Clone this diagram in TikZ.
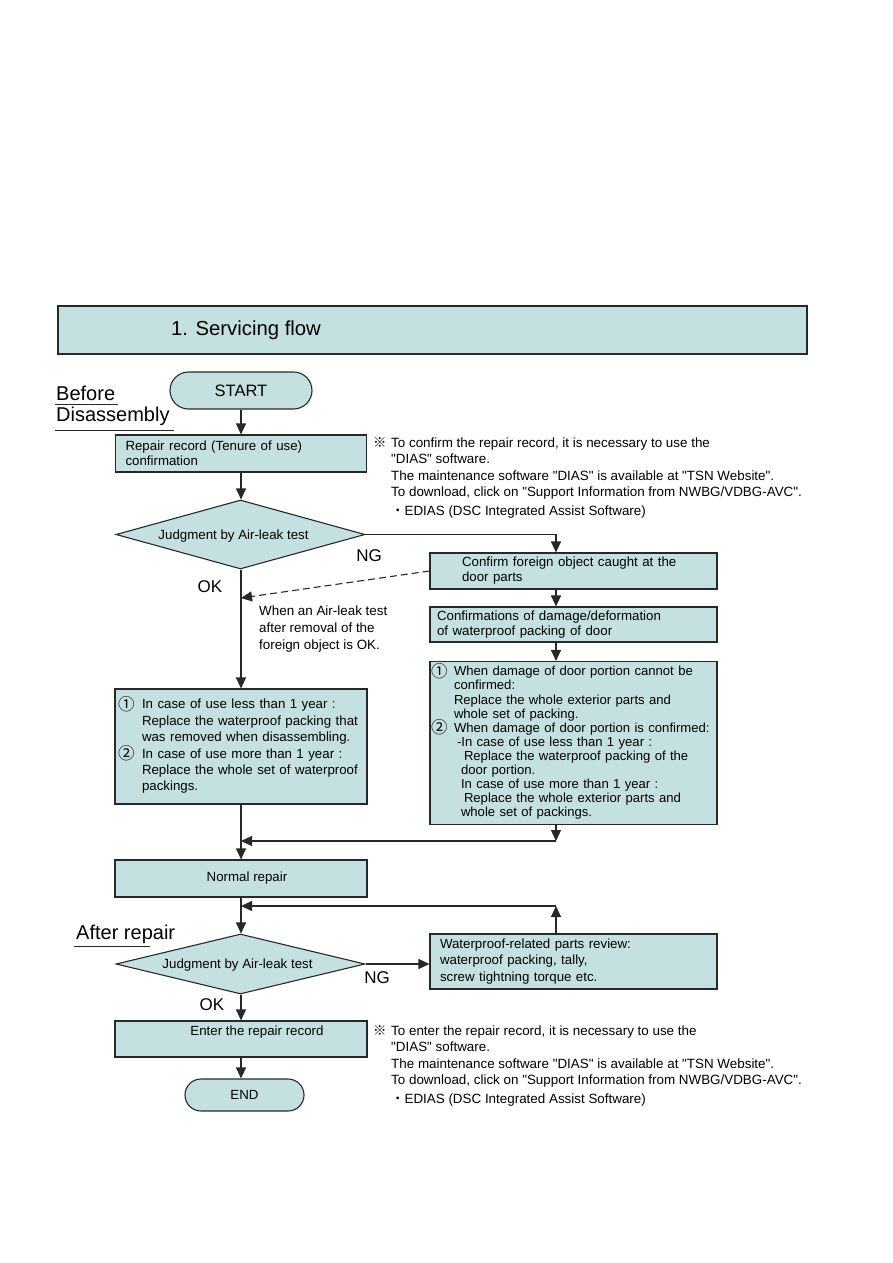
\documentclass[tikz,border=0pt]{standalone}
\usepackage{fontspec}
\setmainfont{Liberation Sans}
\newfontfamily\cjk{Noto Sans CJK JP}
\font\dqfont="Liberation Sans" at 13.4pt
\newcommand\dq{{\dqfont"}}
\newcommand\cnum[1]{\smash{\raisebox{-1.5pt}{\fontsize{16.5}{16.5}\cjk #1}}}
\usetikzlibrary{arrows.meta,shapes.geometric,shapes.misc}
\definecolor{boxfill}{RGB}{197,224,224}
\definecolor{edge}{RGB}{40,40,40}
\tikzset{
  box/.style={draw=edge, fill=boxfill, line width=1.1pt, rectangle, inner sep=0pt, align=left,
    font=\fontsize{13.3}{15}\selectfont},
  decision/.style={draw=edge, fill=boxfill, line width=1.1pt, diamond, inner sep=0pt,
    font=\fontsize{13.3}{15}\selectfont},
  term/.style={draw=edge, fill=boxfill, line width=1.1pt, rounded rectangle, inner sep=0pt},
  arr/.style={-{Triangle[length=11pt,width=10pt]}, line width=1.1pt, draw=edge},
  lbl/.style={font=\fontsize{17}{20}\selectfont, inner sep=0pt},
  big/.style={font=\fontsize{20}{24}\selectfont, inner sep=0pt, anchor=west},
  note/.style={font=\fontsize{13.4}{16.6}\selectfont, inner sep=0pt, align=left, anchor=north west},
}
\begin{document}
\begin{tikzpicture}[x=1pt,y=-1pt]
\useasboundingbox (0,0) rectangle (893,1263);

% title
\node[box, minimum width=749pt, minimum height=48pt] (title) at (432.5,330) {};
\node[font=\fontsize{20.3}{24}\selectfont, anchor=west, inner sep=0pt] (titletext) at (171,330) {1. Servicing flow};

% section labels
\node[big] (before) at (56,393) {Before};
\node[big] (disas) at (56,416) {Disassembly};
\draw[line width=0.8pt, edge] (55,404) -- (118,404);
\draw[line width=0.8pt, edge] (55,430) -- (174,430);
\node[big] (after) at (76,934) {After repair};
\draw[line width=0.8pt, edge] (74,946) -- (150,946);

% main column
\node[term, minimum width=142pt, minimum height=37pt, font=\fontsize{16.5}{19}\selectfont] (start) at (241,390.5) {START};
\node[box, minimum width=251pt, minimum height=37pt, text width=231pt] (repair) at (241,453.5)
  {Repair record (Tenure of use)\\confirmation};
\node[decision, aspect=3.7, minimum width=249pt, minimum height=69pt] (judge1) at (240.5,534.5)
  {\hspace*{-14pt}\raisebox{-4.6pt}[0pt][0pt]{Judgment by Air-leak test}};

\node[box, minimum width=252pt, minimum height=115pt, text width=246pt,
  font=\fontsize{13.3}{16.4}\selectfont] (leftbox) at (241,746.5)
  {\makebox[24pt][l]{\cnum{①}}In case of use less than 1 year :\\
   \hspace*{24pt}Replace the waterproof packing that\\
   \hspace*{24pt}was removed when disassembling.\\
   \makebox[24pt][l]{\cnum{②}}In case of use more than 1 year :\\
   \hspace*{24pt}Replace the whole set of waterproof\\
   \hspace*{24pt}packings.};

\node[box, minimum width=252pt, minimum height=37pt] (normal) at (241,878.5) {\hspace*{12pt}Normal repair};
\node[decision, aspect=4, minimum width=249pt, minimum height=60pt] (judge2) at (240.5,964)
  {\hspace*{-6pt}\raisebox{-4pt}[0pt][0pt]{Judgment by Air-leak test}};
\node[box, minimum width=252pt, minimum height=36pt] (enter) at (241,1039) {};
\node[font=\fontsize{13.3}{15}\selectfont, inner sep=0pt] (entertext) at (257,1032) {Enter the repair record};
\node[term, minimum width=119pt, minimum height=32pt, font=\fontsize{13.3}{15}\selectfont] (end) at (244.5,1095) {END};

% right column
\node[box, minimum width=287pt, minimum height=36pt, text width=223pt] (confirm) at (573.5,571)
  {Confirm foreign object caught at the\\door parts};
\node[box, minimum width=287pt, minimum height=35pt, text width=273pt] (confirms) at (573.5,624.5)
  {Confirmations of damage/deformation\\of waterproof packing of door};
\node[box, minimum width=287pt, minimum height=163pt, text width=285pt,
  font=\fontsize{13.1}{14.1}\selectfont] (bigbox) at (573.5,743)
  {\makebox[23pt][l]{\cnum{①}}When damage of door portion cannot be\\
   \hspace*{23pt}confirmed:\\
   \hspace*{23pt}Replace the whole exterior parts and\\
   \hspace*{23pt}whole set of packing.\\
   \makebox[23pt][l]{\cnum{②}}When damage of door portion is confirmed:\\
   \hspace*{26pt}-In case of use less than 1 year :\\
   \hspace*{33pt}Replace the waterproof packing of the\\
   \hspace*{30pt}door portion.\\
   \hspace*{30pt}In case of use more than 1 year :\\
   \hspace*{33pt}Replace the whole exterior parts and\\
   \hspace*{30pt}whole set of packings.};
\node[box, minimum width=287pt, minimum height=55pt, text width=267pt,
  font=\fontsize{13.3}{16.8}\selectfont] (review) at (573.5,961.5)
  {Waterproof-related parts review:\\waterproof packing, tally,\\screw tightning torque etc.};

% labels
\node[lbl] (ng1) at (369,556) {NG};
\node[lbl] (ok1) at (210,587) {OK};
\node[lbl] (ng2) at (377,978) {NG};
\node[lbl] (ok2) at (212,1005) {OK};
\node[note] (dashnote) at (259,606) {When an Air-leak test\\after removal of the\\foreign object is OK.};

\node[note] (note1) at (373,437)
  {\makebox[18pt][l]{\cjk ※}To confirm the repair record, it is necessary to use the\\
   \hspace*{18pt}\dq DIAS\dq{} software.\\
   \hspace*{18pt}The maintenance software \dq DIAS\dq{} is available at \dq TSN Website\dq .\\
   \hspace*{18pt}To download, click on \dq Support Information from NWBG/VDBG-AVC\dq .\\[1.5pt]
   \hspace*{18pt}{\cjk ・}EDIAS (DSC Integrated Assist Software)};
\node[note] (note2) at (373,1025)
  {\makebox[18pt][l]{\cjk ※}To enter the repair record, it is necessary to use the\\
   \hspace*{18pt}\dq DIAS\dq{} software.\\
   \hspace*{18pt}The maintenance software \dq DIAS\dq{} is available at \dq TSN Website\dq .\\
   \hspace*{18pt}To download, click on \dq Support Information from NWBG/VDBG-AVC\dq .\\[1.5pt]
   \hspace*{18pt}{\cjk ・}EDIAS (DSC Integrated Assist Software)};

% connectors
\coordinate (dashend) at (241,598);
\coordinate (confirmTop) at ([xshift=-17.5pt]confirm.north);
\coordinate (confirmBot) at ([xshift=-17.5pt]confirm.south);
\coordinate (confirmsTop) at ([xshift=-17.5pt]confirms.north);
\coordinate (confirmsBot) at ([xshift=-17.5pt]confirms.south);
\coordinate (bigTop) at ([xshift=-17.5pt]bigbox.north);
\coordinate (bigBot) at ([xshift=-17.5pt]bigbox.south);
\coordinate (reviewTop) at ([xshift=-17.5pt]review.north);
\coordinate (merge) at (556,841);
\coordinate (mergeL) at (241,841);
\coordinate (fb) at (556,906);
\coordinate (fbL) at (241,906);

\draw[arr] (start.south) -- (repair.north);
\draw[arr] (repair.south) -- (repair.south |- judge1.north);
\draw[arr] (judge1.east) -| (confirmTop);
\draw[arr] (confirmBot) -- (confirmsTop);
\draw[arr] (confirmsBot) -- (bigTop);
\draw[arr, dash pattern=on 7pt off 4pt] (confirm.west) -- (dashend);
\draw[arr] (judge1.south -| leftbox.north) -- (leftbox.north);
\draw[arr] (bigBot) -- (merge);
\draw[arr] (merge) -- (mergeL);
\draw[arr] (leftbox.south) -- (normal.north);
\draw[arr] (normal.south) -- (normal.south |- judge2.north);
\draw[arr] (reviewTop) -- (fb);
\draw[arr] (fb) -- (fbL);
\draw[arr] (judge2.east) -- (review.west |- judge2.east);
\draw[arr] (judge2.south -| enter.north) -- (enter.north);
\draw[arr] (enter.south) -- (enter.south |- end.north);
\end{tikzpicture}
\end{document}
